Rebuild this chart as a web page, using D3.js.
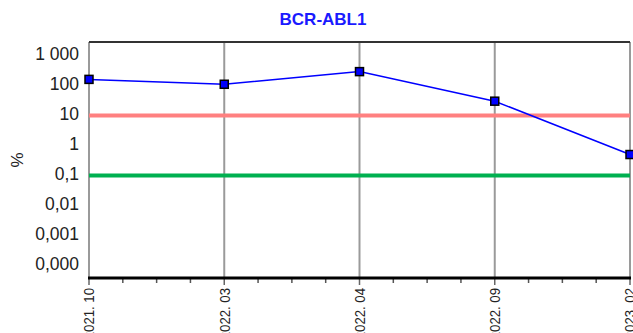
<!doctype html>
<html lang="en">
<head>
  <meta charset="utf-8">
  <title>BCR-ABL1</title>
  <script src="https://cdn.jsdelivr.net/npm/d3@7"></script>
  <style>
    body { margin: 0; background: #fff; }
    text { font-family: "Liberation Sans", Arial, sans-serif; }
  </style>
</head>
<body>
<svg id="chart" width="633" height="333"></svg>
<script>
  // data
  var categories = ["2021. 10", "2022. 03", "2022. 04", "2022. 09", "2023. 02"];
  var values = [160, 110, 290, 30, 0.5];
  var upperLimit = 10;
  var lowerLimit = 0.1;
  var yTicks = [1000, 100, 10, 1, 0.1, 0.01, 0.001, 0.0001];
  var yTickLabels = ["1 000", "100", "10", "1", "0,1", "0,01", "0,001", "0,000"];

  var svg = d3.select("#chart");
  var plotL = 89, plotR = 630, plotT = 42, plotB = 278;

  var x = d3.scalePoint().domain(categories).range([plotL, plotR]);
  var y = d3.scaleLog().domain([0.0001, 1000]).range([265.5, 55.5]);

  // title
  svg.append("text")
    .attr("x", 323).attr("y", 25)
    .attr("text-anchor", "middle")
    .style("font-size", "17px").style("font-weight", "bold")
    .attr("fill", "#1a1aff")
    .text("BCR-ABL1");

  // vertical grid
  svg.selectAll(".grid").data(categories).enter().append("line")
    .attr("x1", function(d) { return x(d); }).attr("x2", function(d) { return x(d); })
    .attr("y1", plotT).attr("y2", plotB)
    .attr("stroke", "#9a9a9a").attr("stroke-width", 2);

  // top border
  svg.append("line")
    .attr("x1", plotL).attr("x2", plotR).attr("y1", plotT).attr("y2", plotT)
    .attr("stroke", "#333").attr("stroke-width", 2);

  // y labels
  svg.selectAll(".ylab").data(yTicks).enter().append("text")
    .attr("x", 79).attr("y", function(d) { return y(d) - 1.5; })
    .attr("dy", "0.35em")
    .attr("text-anchor", "end")
    .style("font-size", "17.5px").attr("fill", "#222")
    .text(function(d, i) { return yTickLabels[i]; });

  svg.append("text")
    .attr("transform", "translate(23,160) rotate(-90)")
    .attr("text-anchor", "middle")
    .style("font-size", "17px").attr("fill", "#222")
    .text("%");

  // threshold lines
  svg.append("line")
    .attr("x1", plotL).attr("x2", plotR).attr("y1", y(upperLimit)).attr("y2", y(upperLimit))
    .attr("stroke", "#ff8080").attr("stroke-width", 4);
  svg.append("line")
    .attr("x1", plotL).attr("x2", plotR).attr("y1", y(lowerLimit)).attr("y2", y(lowerLimit))
    .attr("stroke", "#00b050").attr("stroke-width", 4);

  // x axis with minor ticks
  var minor = [];
  for (var i = 0; i < categories.length - 1; i++) {
    var a = x(categories[i]), b = x(categories[i + 1]);
    for (var k = 1; k < 4; k++) minor.push(a + (b - a) * k / 4);
  }
  svg.selectAll(".minor").data(minor).enter().append("line")
    .attr("x1", function(d) { return d; }).attr("x2", function(d) { return d; })
    .attr("y1", plotB).attr("y2", plotB + 5)
    .attr("stroke", "#555").attr("stroke-width", 1.5);
  svg.selectAll(".major").data(categories).enter().append("line")
    .attr("x1", function(d) { return x(d); }).attr("x2", function(d) { return x(d); })
    .attr("y1", plotB).attr("y2", plotB + 7)
    .attr("stroke", "#666").attr("stroke-width", 1.5);
  svg.append("line")
    .attr("x1", plotL - 1).attr("x2", plotR + 1).attr("y1", plotB).attr("y2", plotB)
    .attr("stroke", "#000").attr("stroke-width", 3);

  // rotated labels, a bit narrow like the original
  svg.selectAll(".xlab").data(categories).enter().append("text")
    .attr("transform", function(d) { return "translate(" + x(d) + "," + (plotB + 10) + ") rotate(-90) scale(0.85,1)"; })
    .attr("dy", "0.35em")
    .attr("text-anchor", "end")
    .style("font-size", "15.5px").attr("fill", "#222")
    .text(function(d) { return d; });

  // series
  var line = d3.line()
    .x(function(d, i) { return x(categories[i]); })
    .y(function(d) { return y(d); });
  svg.append("path").datum(values)
    .attr("d", line)
    .attr("fill", "none").attr("stroke", "#0000ff").attr("stroke-width", 1.5);
  svg.selectAll(".pt").data(values).enter().append("rect")
    .attr("x", function(d, i) { return x(categories[i]) - 4; })
    .attr("y", function(d) { return y(d) - 4; })
    .attr("width", 8).attr("height", 8)
    .attr("fill", "#0000ff").attr("stroke", "#000").attr("stroke-width", 1.5);
</script>
</body>
</html>
